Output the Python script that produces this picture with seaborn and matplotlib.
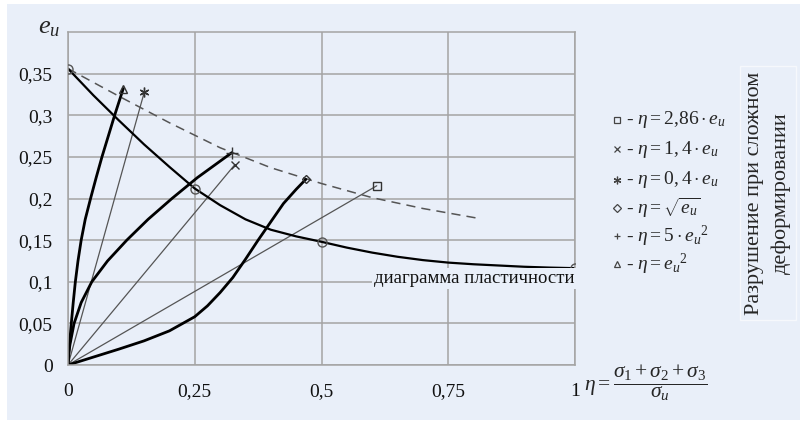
import matplotlib
matplotlib.use("Agg")
import matplotlib.pyplot as plt
from matplotlib.lines import Line2D
from matplotlib.patches import Rectangle
import seaborn as sns

sns.set_theme(style="white")
plt.rcParams["font.family"] = ["Liberation Serif", "DejaVu Serif"]
plt.rcParams["mathtext.fontset"] = "custom"
plt.rcParams["mathtext.rm"] = "Liberation Serif"
plt.rcParams["mathtext.it"] = "Liberation Serif:italic"
plt.rcParams["mathtext.bf"] = "Liberation Serif:bold"

BG = "#e9eff9"
GRID = "#a4a4a4"

# Plasticity diagram e_u(eta)
eta_plast = [0, 0.05, 0.10, 0.15, 0.20, 0.25, 0.30, 0.35, 0.40, 0.45, 0.50,
             0.55, 0.60, 0.65, 0.70, 0.75, 0.80, 0.85, 0.90, 0.95, 1.0]
e_plast = [0.356, 0.324, 0.294, 0.265, 0.238, 0.212, 0.192, 0.175, 0.1625, 0.1545, 0.148,
           0.141, 0.135, 0.130, 0.126, 0.123, 0.121, 0.1195, 0.118, 0.117, 0.1163]
eta_plast_pts = [0, 0.25, 0.5, 1.0]
e_plast_pts = [0.356, 0.212, 0.148, 0.1163]

# Fracture under complex loading (dashed)
eta_frac = [0, 0.1, 0.2, 0.3, 0.4, 0.5, 0.6, 0.7, 0.811]
e_frac = [0.356, 0.323, 0.291, 0.261, 0.237, 0.218, 0.201, 0.188, 0.176]

# Proportional loading paths (straight rays)
eta_286 = [0, 0.609]
e_286 = [0, 0.2153]
eta_14 = [0, 0.329]
e_14 = [0, 0.2406]
eta_04 = [0, 0.1506]
e_04 = [0, 0.328]

# Curved loading paths
eta_sqrt = [0, 0.05, 0.10, 0.15, 0.20, 0.25, 0.275, 0.30, 0.325, 0.35, 0.375, 0.40, 0.425, 0.45, 0.469]
e_sqrt = [0, 0.0095, 0.019, 0.029, 0.041, 0.058, 0.071, 0.087, 0.105, 0.127, 0.150, 0.172, 0.194, 0.211, 0.223]

eta_5sq = [0, 0.001, 0.004, 0.012, 0.026, 0.047, 0.078, 0.116, 0.158, 0.205, 0.255, 0.323]
e_5sq = [0, 0.0125, 0.025, 0.05, 0.075, 0.10, 0.125, 0.15, 0.175, 0.20, 0.225, 0.255]

eta_sq = [0, 0.003, 0.0065, 0.0103, 0.0145, 0.0197, 0.026, 0.034, 0.0445, 0.0555, 0.067, 0.0795, 0.092, 0.109]
e_sq = [0, 0.025, 0.05, 0.075, 0.10, 0.125, 0.15, 0.175, 0.20, 0.225, 0.25, 0.275, 0.30, 0.332]

x_ticks = [0, 0.25, 0.5, 0.75, 1.0]
x_tick_labels = ["0", "0,25", "0,5", "0,75", "1"]
y_ticks = [0, 0.05, 0.10, 0.15, 0.20, 0.25, 0.30, 0.35]
y_tick_labels = ["0", "0,05", "0,1", "0,15", "0,2", "0,25", "0,3", "0,35"]

legend_labels = [
    r"- $\eta=2{,}86\cdot e_{и}$",
    r"- $\eta=1,4\cdot e_{и}$",
    r"- $\eta=0,4\cdot e_{и}$",
    r"- $\eta=\sqrt{e_{и}}$",
    r"- $\eta=5\cdot e_{и}{}^{2}$",
    r"- $\eta=e_{и}{}^{2}$",
]
ASTERISK = (6, 2, 0)
legend_markers = ["s", "x", ASTERISK, "D", "+", "^"]

fig = plt.figure(figsize=(8.0, 4.21), dpi=100, facecolor="white")
fig.add_artist(Rectangle((7 / 800, 1 / 421), 1, 416 / 421, transform=fig.transFigure,
                         facecolor=BG, edgecolor="none", zorder=-10))

ax = fig.add_axes([68 / 800, 1 - 365 / 421, 507 / 800, 333 / 421])
ax.set_facecolor(BG)
ax.set_xlim(0, 1)
ax.set_ylim(0, 0.4)
ax.set_axisbelow(True)
ax.grid(True, color=GRID, linewidth=1.1)
for s in ax.spines.values():
    s.set_color(GRID)
    s.set_linewidth(1.1)
ax.set_xticks(x_ticks)
ax.set_xticklabels(x_tick_labels)
ax.set_yticks(y_ticks)
ax.set_yticklabels(y_tick_labels)
ax.tick_params(axis="both", direction="out", length=4, width=1.1, color=GRID,
               labelsize=14, pad=7, labelcolor="#111111")
ax.tick_params(axis="x", pad=9)

# thin rays
for xs, ys in [(eta_286, e_286), (eta_14, e_14), (eta_04, e_04)]:
    sns.lineplot(x=xs, y=ys, ax=ax, color="#555555", linewidth=0.9,
                 sort=False, estimator=None)

# fracture curve (dashed)
sns.lineplot(x=eta_frac, y=e_frac, ax=ax, color="#555555", linewidth=1.1,
             linestyle=(0, (6, 4)), sort=False, estimator=None)

# plasticity diagram
sns.lineplot(x=eta_plast, y=e_plast, ax=ax, color="black", linewidth=1.6,
             sort=False, estimator=None)
ax.plot(eta_plast_pts, e_plast_pts, linestyle="none", marker="o", markersize=6.5,
        markerfacecolor="none", markeredgecolor="#555555", markeredgewidth=1.0, zorder=5)

# curved loading paths
for xs, ys in [(eta_sqrt, e_sqrt), (eta_5sq, e_5sq), (eta_sq, e_sq)]:
    sns.lineplot(x=xs, y=ys, ax=ax, color="black", linewidth=2.0,
                 sort=False, estimator=None)

# path end markers
end_points = [
    (eta_286[-1], e_286[-1], "s", 5.5),
    (eta_14[-1], e_14[-1], "x", 6),
    (eta_04[-1], e_04[-1], ASTERISK, 7),
    (eta_sqrt[-1], e_sqrt[-1], "D", 4.5),
    (eta_5sq[-1], e_5sq[-1], "+", 8),
    (eta_sq[-1], e_sq[-1], "^", 6),
]
for xe, ye, mk, ms in end_points:
    ax.plot([xe], [ye], linestyle="none", marker=mk, markersize=ms,
            markerfacecolor="none", markeredgecolor="#333333", markeredgewidth=1.0, zorder=6)

ax.text(1.0, 0.1034, "диаграмма пластичности", ha="right", va="center",
        fontsize=13.5, color="#111111", zorder=7,
        bbox=dict(facecolor=BG, edgecolor="none", pad=1.5))

# axis titles
fig.text(38 / 800, 1 - 28 / 421, r"$e_{и}$", fontsize=19, ha="left", va="center")
fig.text(584 / 800, 1 - 383 / 421,
         r"$\eta=\dfrac{\sigma_1+\sigma_2+\sigma_3}{\sigma_{и}}$",
         fontsize=15.5, ha="left", va="center")

# legend
rows_y = [120, 149, 180, 208, 236, 264]
for yy, mk, lab in zip(rows_y, legend_markers, legend_labels):
    fig.add_artist(Line2D([617 / 800], [1 - yy / 421], transform=fig.transFigure,
                          marker=mk, markersize=4.5 if mk != ASTERISK else 5.5,
                          linestyle="none", markerfacecolor="none",
                          markeredgecolor="#444444", markeredgewidth=0.9))
    fig.text(626 / 800, 1 - yy / 421, lab, fontsize=14, ha="left", va="center")

fig.text(768 / 800, 1 - 193 / 421, "Разрушение при сложном\nдеформировании",
         rotation=90, ha="center", va="center", multialignment="center",
         fontsize=16, linespacing=1.45,
         bbox=dict(facecolor=BG, edgecolor="#f6f8fc", linewidth=1.0, pad=4))

fig.savefig("out.png", dpi=100, facecolor="white")
